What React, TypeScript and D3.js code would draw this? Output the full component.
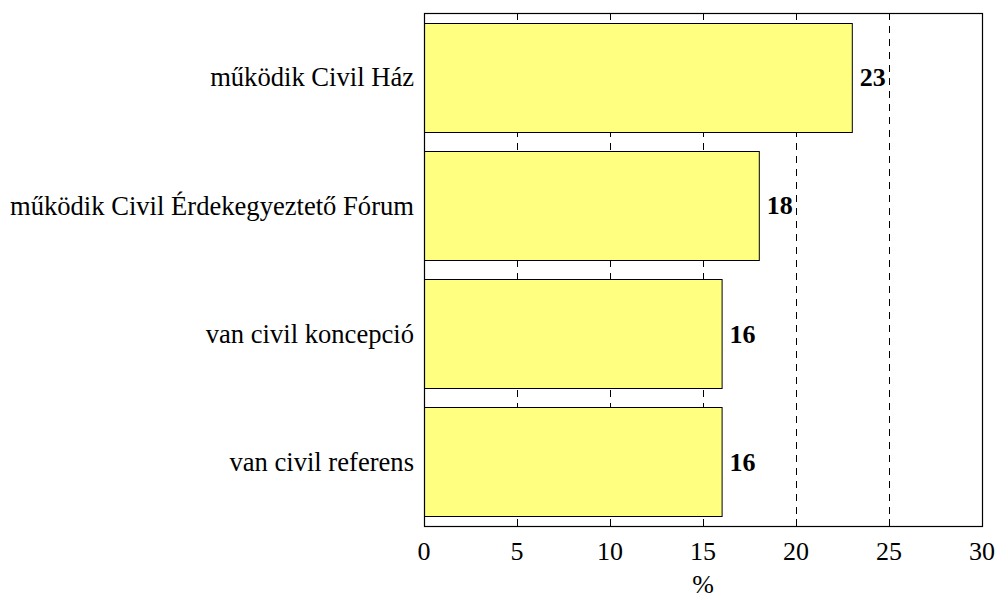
import React, { useEffect, useRef } from "react";
import * as d3 from "d3";

const categories = [
  "működik Civil Ház",
  "működik Civil Érdekegyeztető Fórum",
  "van civil koncepció",
  "van civil referens",
];
const values = [23, 18, 16, 16];
const xTicks = [0, 5, 10, 15, 20, 25, 30];

const W = 996;
const H = 599;
const margin = { top: 13, right: 14, bottom: 73, left: 424 };

const App = () => {
  const ref = useRef<SVGGElement>(null);

  useEffect(() => {
    const node = ref.current;
    if (!node) return;
    node.innerHTML = "";
    const width = W - margin.left - margin.right;
    const height = H - margin.top - margin.bottom;
    const font = "Liberation Serif, Times New Roman, serif";

    const g = d3.select(node).attr("transform", `translate(${margin.left},${margin.top})`);

    const x = d3.scaleLinear().domain([0, 30]).range([0, width]);
    const y = d3
      .scaleBand()
      .domain(categories)
      .range([0, height])
      .paddingInner(0.15)
      .paddingOuter(0.075);

    // dashed grid
    g.selectAll(".grid")
      .data(xTicks.slice(1, -1))
      .enter()
      .append("line")
      .attr("x1", (d) => Math.round(x(d)) + 0.5)
      .attr("x2", (d) => Math.round(x(d)) + 0.5)
      .attr("y1", 0)
      .attr("y2", height)
      .attr("stroke", "#000")
      .attr("stroke-width", 1)
      .attr("stroke-dasharray", "7,6");

    // bars
    g.selectAll(".bar")
      .data(values)
      .enter()
      .append("rect")
      .attr("x", 0.5)
      .attr("y", (d, i) => Math.round(y(categories[i])!) + 0.5)
      .attr("width", (d) => x(d))
      .attr("height", Math.round(y.bandwidth()))
      .attr("fill", "#ffff80")
      .attr("stroke", "#000")
      .attr("stroke-width", 1);

    // value labels
    g.selectAll(".val")
      .data(values)
      .enter()
      .append("text")
      .attr("x", (d) => x(d) + 8)
      .attr("y", (d, i) => y(categories[i])! + y.bandwidth() / 2)
      .attr("dy", "0.35em")
      .style("font-family", font)
      .style("font-size", "26px")
      .style("font-weight", "bold")
      .text((d) => d);

    // category labels
    g.selectAll(".cat")
      .data(categories)
      .enter()
      .append("text")
      .attr("x", -10)
      .attr("y", (d) => y(d)! + y.bandwidth() / 2)
      .attr("dy", "0.35em")
      .attr("text-anchor", "end")
      .style("font-family", font)
      .style("font-size", "26.6px")
      .text((d) => d);

    // frame
    g.append("rect")
      .attr("x", 0.5)
      .attr("y", 0.5)
      .attr("width", width)
      .attr("height", height)
      .attr("fill", "none")
      .attr("stroke", "#000")
      .attr("stroke-width", 1.2);

    // inward ticks top & bottom
    xTicks.slice(1, -1).forEach((t) => {
      const px = Math.round(x(t)) + 0.5;
      g.append("line").attr("x1", px).attr("x2", px).attr("y1", height).attr("y2", height - 7).attr("stroke", "#000");
      g.append("line").attr("x1", px).attr("x2", px).attr("y1", 0).attr("y2", 7).attr("stroke", "#000");
    });

    // tick labels
    g.selectAll(".tl")
      .data(xTicks)
      .enter()
      .append("text")
      .attr("x", (d) => x(d))
      .attr("y", height + 34)
      .attr("text-anchor", "middle")
      .style("font-family", font)
      .style("font-size", "26px")
      .text((d) => d);

    g.append("text")
      .attr("x", width / 2)
      .attr("y", height + 67)
      .attr("text-anchor", "middle")
      .style("font-family", font)
      .style("font-size", "26px")
      .text("%");
  }, []);

  return (
    <svg width={W} height={H} style={{ display: "block", position: "absolute", left: 0, top: 0 }}>
      <rect width={W} height={H} fill="#fff" />
      <g ref={ref} />
    </svg>
  );
};

export default App;
